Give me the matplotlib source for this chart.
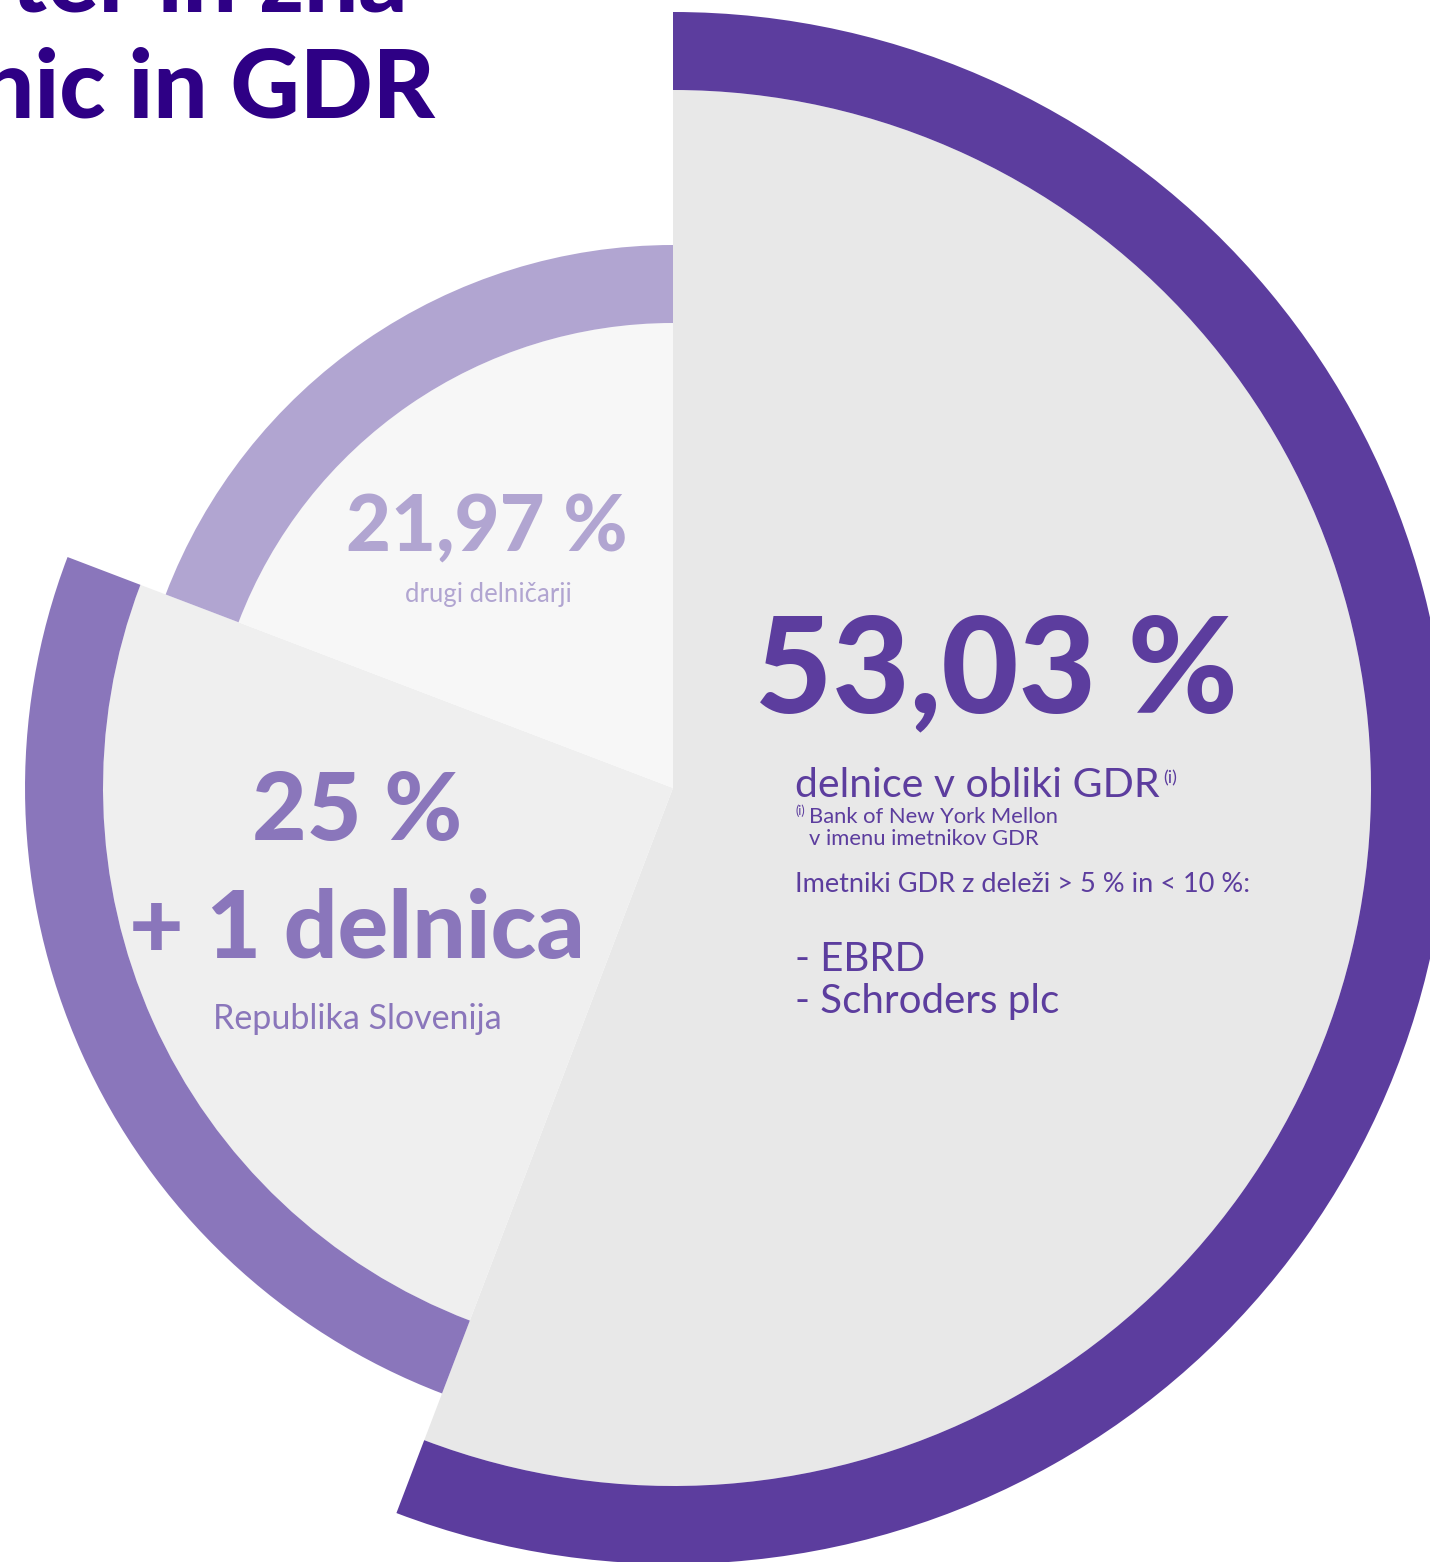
import matplotlib
matplotlib.use("Agg")
import matplotlib.pyplot as plt
from matplotlib.patches import Wedge
import numpy as np

# ---- data ----
categories = ["delnice v obliki GDR", "Republika Slovenija", "drugi delničarji"]
label_values = ["53,03 %", "25 %", "21,97 %"]
# angular shares as drawn in the reference graphic (percent of full circle)
drawn_shares = [55.8, 25.0, 19.2]
gdr_holders = ["- EBRD", "- Schroders plc"]
title_lines = ["ter in zna", "nic in GDR"]

# ---- styles ----
W, H = 1430, 1562
ring_colors = ["#5c3d9e", "#8a76bb", "#b1a5d1"]
fill_colors = ["#e8e8e8", "#efefef", "#f7f7f7"]
outer_radii = [776, 648, 543]
ring_width = 78
center_px = (673, 788)
title_color = "#2e0085"
FONT = "Lato"
HEAVY = 900

fig = plt.figure(figsize=(W / 100, H / 100), dpi=100)
ax = fig.add_axes([0, 0, 1, 1])
ax.set_xlim(0, W)
ax.set_ylim(H, 0)
ax.set_aspect("equal")
ax.axis("off")

cx, cy = center_px
start = 90.0
for i, share in enumerate(drawn_shares):
    span = 360.0 * share / 100.0
    end = start - span
    # y axis inverted -> screen angle a corresponds to data angle -a
    t1, t2 = -start, -end
    r = outer_radii[i]
    ax.add_patch(Wedge((cx, cy), r - ring_width, t1, t2, facecolor=fill_colors[i],
                       edgecolor="none", zorder=2 + i * 0.01))
    ax.add_patch(Wedge((cx, cy), r, t1, t2, width=ring_width, facecolor=ring_colors[i],
                       edgecolor="none", zorder=2 + i * 0.01))
    start = end

# ---- title (partially cut off at top) ----
ax.text(407, 12, title_lines[0], fontsize=69, fontweight=HEAVY, family=FONT,
        color=title_color, ha="right", va="baseline", zorder=5)
ax.text(435, 117, title_lines[1], fontsize=69, fontweight=HEAVY, family=FONT,
        color=title_color, ha="right", va="baseline", zorder=5)

# ---- slice 3 labels ----
ax.text(487, 551, label_values[2], fontsize=56, fontweight=HEAVY, family=FONT,
        color=ring_colors[2], ha="center", va="baseline", zorder=5)
ax.text(488, 602, categories[2], fontsize=18.5, family=FONT,
        color=ring_colors[2], ha="center", va="baseline", zorder=5)

# ---- slice 2 labels ----
ax.text(357, 840, label_values[1], fontsize=68, fontweight=HEAVY, family=FONT,
        color=ring_colors[1], ha="center", va="baseline", zorder=5)
ax.text(357, 958, "+ 1 delnica", fontsize=68, fontweight=HEAVY, family=FONT,
        color=ring_colors[1], ha="center", va="baseline", zorder=5)
ax.text(357, 1029, categories[1], fontsize=24.5, family=FONT,
        color=ring_colors[1], ha="center", va="baseline", zorder=5)

# ---- slice 1 labels ----
c1 = ring_colors[0]
ax.text(755, 712, label_values[0], fontsize=96, fontweight=HEAVY, family=FONT,
        color=c1, ha="left", va="baseline", zorder=5)
ax.text(795, 797, categories[0], fontsize=29.5, family=FONT,
        color=c1, ha="left", va="baseline", zorder=5)
ax.text(1163, 783, "(i)", fontsize=13, family=FONT, color=c1,
        ha="left", va="baseline", zorder=5)
ax.text(795, 815, "(i)", fontsize=9, family=FONT, color=c1,
        ha="left", va="baseline", zorder=5)
ax.text(809, 823, "Bank of New York Mellon", fontsize=15.8, family=FONT,
        color=c1, ha="left", va="baseline", zorder=5)
ax.text(809, 845, "v imenu imetnikov GDR", fontsize=15.8, family=FONT,
        color=c1, ha="left", va="baseline", zorder=5)
ax.text(795, 892, "Imetniki GDR z deleži > 5 % in < 10 %:", fontsize=19.5, family=FONT,
        color=c1, ha="left", va="baseline", zorder=5)
ax.text(795, 971, gdr_holders[0], fontsize=29, family=FONT,
        color=c1, ha="left", va="baseline", zorder=5)
ax.text(795, 1013, gdr_holders[1], fontsize=29, family=FONT,
        color=c1, ha="left", va="baseline", zorder=5)

fig.savefig("out.png", dpi=100, facecolor="white")
